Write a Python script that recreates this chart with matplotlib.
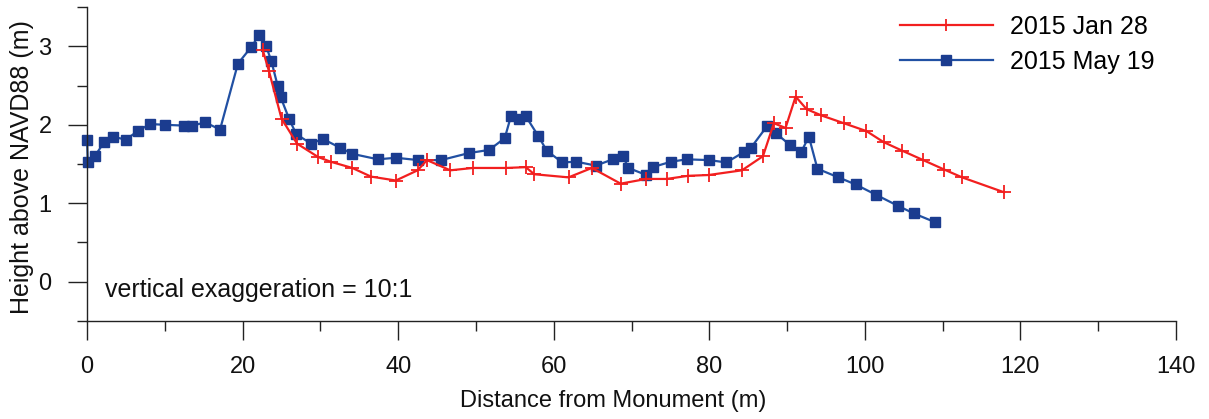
import matplotlib
matplotlib.use("Agg")
import matplotlib.pyplot as plt
from matplotlib import font_manager
from matplotlib.ticker import MultipleLocator

# profile survey
may_x = [0, 0.1, 1.0, 2.2, 3.3, 5.0, 6.5, 8.1, 10.0, 12.5, 13.5, 15.2, 17.1, 19.4, 21.1, 22.1,
         23.0, 23.7, 24.5, 24.9, 26.0, 26.9, 28.8, 30.3, 32.5, 34.1, 37.4, 39.7, 42.6, 45.5,
         49.1, 51.7, 53.7, 54.5, 55.5, 56.4, 58.0, 59.1, 61.1, 62.9, 65.4, 67.6, 68.9, 69.6,
         71.9, 72.7, 75.1, 77.1, 80.0, 82.2, 84.4, 85.3, 87.4, 88.6, 90.4, 91.8, 92.8, 93.9,
         96.6, 98.8, 101.4, 104.2, 106.3, 109.0]
may_y = [1.81, 1.52, 1.60, 1.78, 1.85, 1.81, 1.92, 2.01, 2.00, 1.99, 1.99, 2.03, 1.94, 2.78,
         2.99, 3.14, 3.01, 2.81, 2.50, 2.35, 2.07, 1.88, 1.76, 1.82, 1.71, 1.63, 1.56, 1.58,
         1.55, 1.55, 1.64, 1.68, 1.83, 2.11, 2.07, 2.11, 1.86, 1.67, 1.52, 1.53, 1.48, 1.56,
         1.60, 1.45, 1.36, 1.46, 1.53, 1.56, 1.55, 1.52, 1.65, 1.70, 1.98, 1.89, 1.74, 1.65,
         1.85, 1.44, 1.33, 1.24, 1.11, 0.97, 0.87, 0.76]

jan_x = [22.6, 23.4, 25.0, 27.0, 29.7, 31.3, 34.1, 36.5, 39.7, 42.5, 43.7, 46.7, 49.6, 53.8,
         56.4, 57.5, 61.9, 64.9, 68.6, 71.9, 74.5, 77.3, 79.9, 84.2, 86.9, 88.3, 89.8, 91.1,
         92.5, 94.4, 97.3, 100.2, 102.4, 104.8, 107.5, 110.2, 112.5, 117.9]
jan_y = [2.95, 2.68, 2.08, 1.76, 1.59, 1.53, 1.45, 1.34, 1.29, 1.42, 1.55, 1.42, 1.45, 1.45,
         1.46, 1.37, 1.33, 1.45, 1.25, 1.31, 1.31, 1.35, 1.36, 1.42, 1.60, 2.02, 1.96, 2.36,
         2.20, 2.12, 2.02, 1.92, 1.78, 1.67, 1.55, 1.43, 1.33, 1.14]

names = {f.name for f in font_manager.fontManager.ttflist}
tick_font = "Liberation Sans Narrow" if "Liberation Sans Narrow" in names else "Liberation Sans"
plt.rcParams["font.family"] = ["Liberation Sans", "DejaVu Sans"]

fig = plt.figure(figsize=(12.09, 4.19), dpi=100)
ax = fig.add_axes([0.072, 0.234, 0.9007, 0.749])

ax.plot(may_x, may_y, color="#2150a3", lw=1.6, marker="s", ms=7.5, mfc="#1b3c8f", mec="#1b3c8f",
        label="2015 May 19", clip_on=False, zorder=2)
ax.plot(jan_x, jan_y, color="#f21f1f", lw=1.6, marker="+", ms=10, mew=1.3,
        label="2015 Jan 28", clip_on=False, zorder=3)

ax.set_xlim(0, 140)
ax.set_ylim(-0.5, 3.5)
ax.spines["top"].set_visible(False)
ax.spines["right"].set_visible(False)
for s in ["left", "bottom"]:
    ax.spines[s].set_linewidth(1.0)
    ax.spines[s].set_color("#222222")

ax.xaxis.set_major_locator(MultipleLocator(20))
ax.xaxis.set_minor_locator(MultipleLocator(10))
ax.yaxis.set_major_locator(MultipleLocator(1))
ax.yaxis.set_minor_locator(MultipleLocator(0.5))
ax.tick_params(which="major", direction="out", length=13.5, width=1.0, color="#222222",
               labelsize=17, labelcolor="#111111", labelfontfamily=tick_font)
ax.tick_params(which="minor", direction="out", length=7, width=1.0, color="#222222")
ax.tick_params(axis="x", which="major", pad=12)
ax.tick_params(axis="y", which="major", pad=12)

ax.set_xlabel("Distance from Monument (m)", fontsize=17, color="#111111")
ax.set_ylabel("Height above NAVD88 (m)", fontsize=18, color="#111111")
ax.xaxis.set_label_coords(0.483, -0.22)
ax.yaxis.set_label_coords(-0.049, 0.49)

ax.text(2.3, -0.1, "vertical exaggeration = 10:1", fontsize=18, color="#111111",
        ha="left", va="center")

handles, labels = ax.get_legend_handles_labels()
ax.legend(handles[::-1], labels[::-1], loc="upper left", bbox_to_anchor=(0.7466, 0.975),
          frameon=False, fontsize=18, handlelength=3.7, handletextpad=0.7,
          labelspacing=0.45, borderpad=0, borderaxespad=0, markerscale=0.9)

fig.savefig("out.png", dpi=100)
